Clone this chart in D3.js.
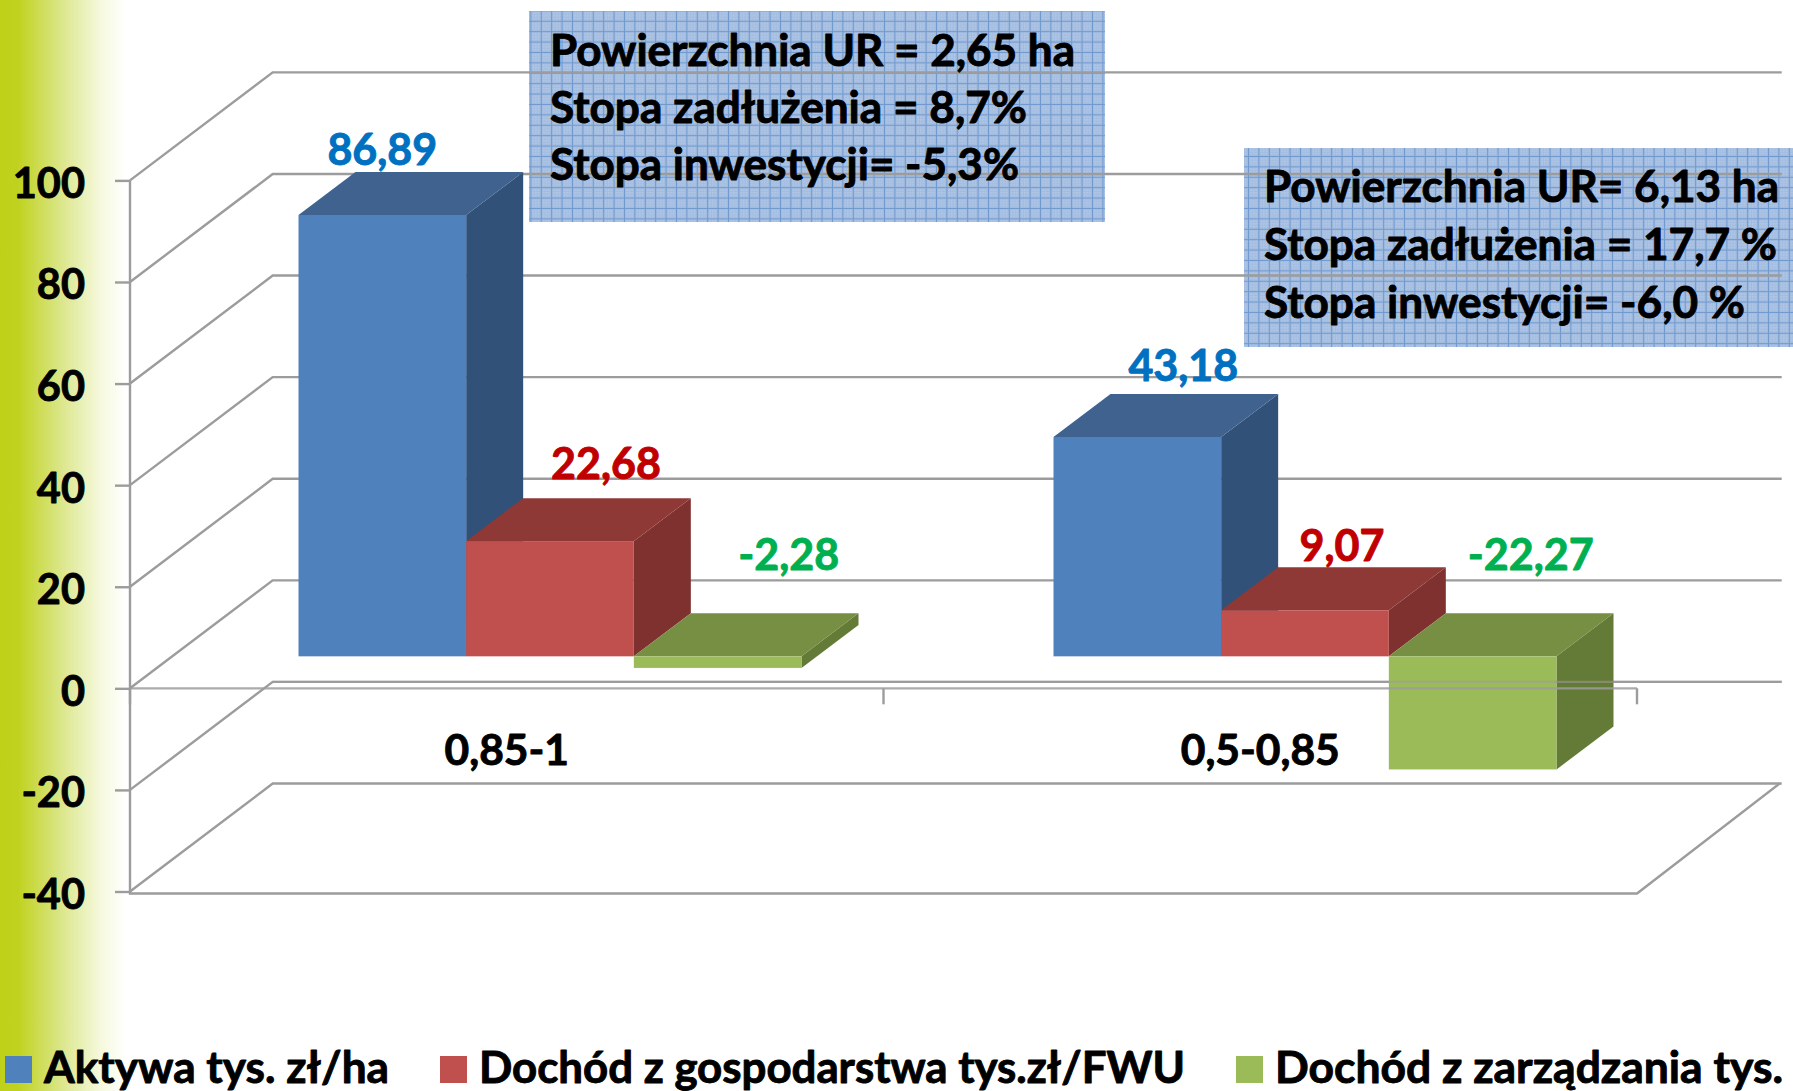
<!DOCTYPE html>
<html>
<head>
<meta charset="utf-8">
<script src="https://cdn.jsdelivr.net/npm/d3@7"></script>
<style>
html,body{margin:0;padding:0;background:#fff;overflow:hidden}
text{font-family:Lato,"Open Sans",sans-serif;font-weight:700;paint-order:stroke;stroke-linejoin:round}
</style>
</head>
<body>
<script>
const categories = ["0,85-1", "0,5-0,85"];
const seriesNames = ["Aktywa tys. zł/ha", "Dochód z gospodarstwa tys.zł/FWU", "Dochód z zarządzania tys."];
const aktywa = [86.89, 43.18];
const dochodGospodarstwa = [22.68, 9.07];
const dochodZarzadzania = [-2.28, -22.27];
const yTicks = [100, 80, 60, 40, 20, 0, -20, -40];
const box1Lines = ["Powierzchnia UR = 2,65 ha", "Stopa zadłużenia = 8,7%", "Stopa inwestycji= -5,3%"];
const box2Lines = ["Powierzchnia UR= 6,13 ha", "Stopa zadłużenia = 17,7 %", "Stopa inwestycji= -6,0 %"];

// styles and layout (separate from the values)
const faceColors = ["#4F81BD", "#C0504D", "#9BBB59"];
const topColors = ["#3F628F", "#8F3937", "#778F42"];
const sideColors = ["#325178", "#7F3130", "#647A37"];
const labelColors = ["#0070C0", "#C00000", "#00B050"];
const labelOffsets = [[[0,-50],[56,-62],[71,null]], [[46,-56],[37,-49],[58,null]]];
const gridColor = "#9C9C9C";
const W = 1793, H = 1091, fs = 43;
const depth = {dx: 142.7, dy: -108};
const barDepth = {dx: 57, dy: -43};
const barPlane = {dx: 44, dy: -32};

const svg = d3.select("body").append("svg").attr("width", W).attr("height", H).style("display","block");
const defs = svg.append("defs");
const grad = defs.append("linearGradient").attr("id","side").attr("x1",0).attr("x2",1).attr("y1",0).attr("y2",0);
[[0,"#BFD119"],[0.14,"#C0D21E"],[0.5,"#DCE78E"],[0.8,"#F6F9DE"],[1,"#FFFFFF"]].forEach(s => grad.append("stop").attr("offset",s[0]).attr("stop-color",s[1]));
const pat = defs.append("pattern").attr("id","grid").attr("patternUnits","userSpaceOnUse").attr("width",10.4).attr("height",10.4);
pat.append("rect").attr("width",10.4).attr("height",10.4).attr("fill","#A2BCE0");
pat.append("path").attr("d","M0 2.6H10.4M0 5.2H10.4M0 7.8H10.4M2.6 0V10.4M5.2 0V10.4M7.8 0V10.4").attr("stroke","#B4C9E7").attr("stroke-width",1).attr("stroke-dasharray","1.3 1.3");
pat.append("path").attr("d","M0 .5H10.4M.5 0V10.4").attr("stroke","#7099CF").attr("stroke-width",1);

svg.append("rect").attr("width",126).attr("height",H).attr("fill","url(#side)");

const x = d3.scaleBand().domain(categories).range([130, 1637]);
const y = d3.scaleLinear().domain([-40, 100]).range([891.5, 180.4]);
const xBars = d3.scaleBand().domain(categories).range([130 + barPlane.dx, 130 + barPlane.dx + 1510]);
const series = d3.scaleBand().domain(d3.range(3)).range([124.5, 124.5 + 503]);
const barW = series.bandwidth();

// boxes sit behind the lines
const boxes = [
 {lines: box1Lines, x0:529, x1:1105, y0:11, y1:222, tx:550, ends:[1075,1027,1019], bases:[66,123,180]},
 {lines: box2Lines, x0:1244, x1:1793, y0:148, y1:347, tx:1264, ends:[1779,1777,1745], bases:[202,260,318]}
];
const boxG = svg.append("g");
boxes.forEach(b => {
  boxG.append("rect").attr("x",b.x0).attr("y",b.y0).attr("width",b.x1-b.x0).attr("height",b.y1-b.y0).attr("fill","url(#grid)");
});

const grid = svg.append("g").attr("fill","none").attr("stroke",gridColor).attr("stroke-width",2.4);
grid.selectAll("path.back").data(yTicks).join("path").attr("class","back")
  .attr("d", t => `M${x.range()[0]} ${y(t)}L${x.range()[0]+depth.dx} ${y(t)+depth.dy}H${x.range()[1]+depth.dx+2}`);
grid.append("path").attr("d", `M${x.range()[0]} ${y(100)}V${y(-40)+2}H${x.range()[1]}L${x.range()[1]+depth.dx} ${y(-40)+depth.dy}`);

// 3D bars
const seriesValues = [aktywa, dochodGospodarstwa, dochodZarzadzania];
const bars = svg.append("g");
const baseY = y(0) + barPlane.dy;
const scaleH = v => y(v) + barPlane.dy;
categories.forEach((c, ci) => {
  seriesValues.forEach((vals, si) => {
    const v = vals[ci];
    const x0 = xBars(c) + series(si), x1 = x0 + barW;
    const yT = Math.min(scaleH(v), baseY), yB = Math.max(scaleH(v), baseY);
    const g = bars.append("g");
    g.append("path").attr("fill", sideColors[si])
      .attr("d", `M${x1} ${yT}L${x1+barDepth.dx} ${yT+barDepth.dy}V${yB+barDepth.dy}L${x1} ${yB}Z`);
    g.append("path").attr("fill", topColors[si])
      .attr("d", `M${x0} ${yT}L${x0+barDepth.dx} ${yT+barDepth.dy}H${x1+barDepth.dx}L${x1} ${yT}Z`);
    g.append("rect").attr("x",x0).attr("y",yT).attr("width",barW).attr("height",yB-yT).attr("fill",faceColors[si]);
  });
});

// zero axis and its ticks, above the bars
const axisZero = svg.append("g").attr("fill","none").attr("stroke",gridColor).attr("stroke-width",2.4);
axisZero.append("path").attr("d", `M${x.range()[0]} ${y(0)}H${x.range()[1]}`).attr("stroke-opacity",0.85);
const xTickPos = [x.range()[0], x(categories[1]), x.range()[1]];
axisZero.selectAll("path.t").data(xTickPos).join("path").attr("class","t").attr("d", p => `M${p} ${y(0)}V${y(0)+16}`);
axisZero.append("path").attr("d", `M${x.range()[0]+depth.dx} ${y(-20)+depth.dy}H${x.range()[1]+depth.dx+2}`).attr("stroke-opacity",0.55);

// y axis
const yAxis = svg.append("g").attr("transform",`translate(${x.range()[0]},0)`)
  .call(d3.axisLeft(y).tickValues(yTicks).tickSize(15).tickPadding(30).tickFormat(d => d));
yAxis.select(".domain").remove();
yAxis.selectAll(".tick line").attr("stroke",gridColor).attr("stroke-width",2.4);
yAxis.attr("font-family",null).attr("font-size",null);
yAxis.selectAll("text").attr("dy",17).attr("fill","#000").attr("stroke","#000").attr("stroke-width",0.9).style("font-size","41.5px");

function heavy(t, c){ t.attr("stroke", c).attr("stroke-width", 0.9); return t; }

// x labels
svg.append("g").selectAll("text").data(categories).join("text")
  .attr("x", d => x(d) + x.bandwidth()/2).attr("y",765).attr("text-anchor","middle")
  .attr("font-size",42.5).attr("fill","#000").attr("stroke","#000").attr("stroke-width",0.9).text(d => d);

// value labels
categories.forEach((c, ci) => {
  seriesValues.forEach((vals, si) => {
    const v = vals[ci], off = labelOffsets[ci][si];
    const cx = xBars(c) + series(si) + barW/2 + off[0];
    const yy = off[1] === null ? baseY - 86 : scaleH(v) + off[1];
    heavy(svg.append("text").attr("x",cx).attr("y",yy).attr("text-anchor","middle")
      .attr("font-size",fs).attr("fill",labelColors[si]).text(String(v).replace(".",",").replace(/,(\d)$/,",$10")), labelColors[si]);
  });
});

// box texts
function fit(t, w){ t.attr("textLength", w).attr("lengthAdjust","spacingAndGlyphs"); }
boxes.forEach(b => {
  b.lines.forEach((l,i) => {
    const t = heavy(svg.append("text").attr("x",b.tx).attr("y",b.bases[i]).attr("font-size",fs).attr("fill","#000").text(l), "#000");
    fit(t, b.ends[i]-b.tx);
  });
});

// legend
const legend = [
 {sx:5, tx:44, te:389},
 {sx:440, tx:479, te:1185},
 {sx:1236, tx:1275, te:1783}
];
legend.forEach((e,i) => {
  svg.append("rect").attr("x",e.sx).attr("y",1056).attr("width",27).attr("height",27).attr("fill",faceColors[i]);
  const t = heavy(svg.append("text").attr("x",e.tx).attr("y",1083).attr("font-size",fs).attr("fill","#000").text(seriesNames[i]), "#000");
  fit(t, e.te-e.tx);
});
</script>
</body>
</html>
